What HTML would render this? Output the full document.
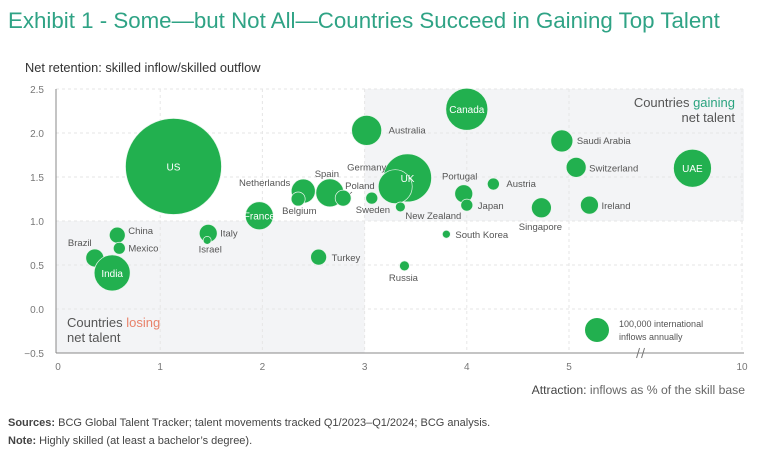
<!DOCTYPE html>
<html><head><meta charset="utf-8"><style>
body{margin:0;background:#fff;width:768px;height:464px;overflow:hidden;font-family:"Liberation Sans",sans-serif}
svg text{font-family:"Liberation Sans",sans-serif}
</style></head><body>
<svg id="c" width="768" height="464">
<text x="8" y="28" font-size="22.3" fill="#2fa385">Exhibit 1 - Some—but Not All—Countries Succeed in Gaining Top Talent</text>
<text x="25" y="72" font-size="12.8" fill="#333">Net retention: skilled inflow/skilled outflow</text>
<g id="plot"></g>
<text x="745" y="394" font-size="12.2" fill="#666" text-anchor="end"><tspan fill="#444">Attraction:</tspan> inflows as % of the skill base</text>
<text x="8" y="426" font-size="11" fill="#444"><tspan font-weight="bold">Sources:</tspan> BCG Global Talent Tracker; talent movements tracked Q1/2023–Q1/2024; BCG analysis.</text>
<text x="8" y="444" font-size="11" fill="#444"><tspan font-weight="bold">Note:</tspan> Highly skilled (at least a bachelor’s degree).</text>
</svg>
<script>
const countries=["US","Canada","Australia","Saudi Arabia","Switzerland","UAE","UK","Germany","Spain","Netherlands","Belgium","Poland","Sweden","New Zealand","Portugal","Japan","Austria","Singapore","Ireland","France","China","Italy","Israel","Mexico","Brazil","India","Turkey","Russia","South Korea"];
const attraction=[1.13,4.0,3.02,4.93,5.07,7.9,3.42,3.30,2.66,2.40,2.35,2.79,3.07,3.35,3.97,4.0,4.26,4.73,5.2,1.97,0.58,1.47,1.46,0.6,0.36,0.53,2.55,3.39,3.80];
const retention=[1.62,2.27,2.03,1.91,1.61,1.60,1.49,1.39,1.32,1.34,1.25,1.26,1.26,1.16,1.31,1.18,1.42,1.15,1.18,1.06,0.84,0.86,0.78,0.69,0.58,0.41,0.59,0.49,0.85];
const inflowsK=[1600,306,156,84,69,250,400,200,136,100,34,44,25,17,56,25,25,69,56,136,44,56,11,25,56,225,44,17,11];
const yTicks=[2.5,2.0,1.5,1.0,0.5,0.0,-0.5];
const yTickLabels=["2.5","2.0","1.5","1.0","0.5","0.0","−0.5"];
const xTicks=[0,1,2,3,4,5,10];
const xTickLabels=["0","1","2","3","4","5","10"];
const legendInflow=100;
const inside=["US","Canada","UAE","UK","France","India"];
const labelPos={"Australia":[22,3,"start"],"Saudi Arabia":[15,3,"start"],"Switzerland":[13,4,"start"],"Germany":[-9,-16,"end"],"Spain":[-3,-16,"middle"],"Netherlands":[-13,-5,"end"],"Belgium":[-16,15,"start"],"Poland":[2,-9,"start"],"Sweden":[-16,15,"start"],"New Zealand":[5,12,"start"],"Portugal":[-4,-14,"middle"],"Japan":[11,4,"start"],"Austria":[13,3,"start"],"Singapore":[-1,22,"middle"],"Ireland":[12,4,"start"],"China":[11,-1,"start"],"Italy":[12,3,"start"],"Israel":[3,12,"middle"],"Mexico":[9,3,"start"],"Brazil":[-15,-12,"middle"],"Turkey":[13,4,"start"],"Russia":[-1,15,"middle"],"South Korea":[9,4,"start"]};
const NS="http://www.w3.org/2000/svg";
const L=58,U=102.2,Y0=309,V=88,BX=5.7,BP=L+BX*U,R10=742;
function sx(v){return v<=BX?L+v*U:BP+(v-BX)*(R10-BP)/(10-BX);}
function sy(v){return Y0-v*V;}
function rr(k){return 1.2*Math.sqrt(k);}
const g=document.getElementById('plot');
function mk(t,a,p){const e=document.createElementNS(NS,t);for(const k in a)e.setAttribute(k,a[k]);(p||g).appendChild(e);return e;}
let e;
e=mk('rect',{x:sx(3),y:sy(2.5),width:744-sx(3),height:sy(1)-sy(2.5),fill:'#f3f4f6'});


e=mk('rect',{x:56,y:sy(1),width:sx(3)-56,height:sy(-0.5)-sy(1),fill:'#f3f4f6'});


yTicks.forEach((t,i)=>{
 if(t>-0.5){e=mk('line',{x1:56,x2:744,y1:sy(t),y2:sy(t),stroke:'#e6e6e6','stroke-dasharray':'3,3'});
 
 }
 e=mk('text',{x:44,y:sy(t)+4,'font-size':10,fill:'#777','text-anchor':'end'});e.textContent=yTickLabels[i];
 
 
});
xTicks.forEach((t,i)=>{
 if(t>0){e=mk('line',{x1:sx(t),x2:sx(t),y1:sy(2.5),y2:sy(-0.5),stroke:'#e6e6e6','stroke-dasharray':'3,3'});
 
 }
 e=mk('text',{x:sx(t),y:370,'font-size':10,fill:'#777','text-anchor':'middle'});e.textContent=xTickLabels[i];
 
 
});
e=mk('line',{x1:56,x2:56,y1:sy(2.5),y2:sy(-0.5),stroke:'#888'});


e=mk('line',{x1:56,x2:744,y1:sy(-0.5),y2:sy(-0.5),stroke:'#888'});


e=mk('path',{d:`M${BP-4},${sy(-0.5)+5} L${BP-1},${sy(-0.5)-5} M${BP+1},${sy(-0.5)+5} L${BP+4},${sy(-0.5)-5}`,stroke:'#777',fill:'none','stroke-width':1});


e=mk('line',{x1:385,y1:175,x2:392,y2:183,stroke:'#555','stroke-width':0.8});


e=mk('line',{x1:352,y1:192,x2:346,y2:197,stroke:'#555','stroke-width':0.8});


countries.forEach((c,i)=>{
 const cx=sx(attraction[i]),cy=sy(retention[i]),r=rr(inflowsK[i]);
 const b=mk('circle',{cx:cx,cy:cy,r:r,fill:'#22b04f',stroke:'#e8f6ec','stroke-width':0.7});
 
 
});
countries.forEach((c,i)=>{
 const cx=sx(attraction[i]),cy=sy(retention[i]);let t;
 if(inside.includes(c)){t=mk('text',{x:cx,y:cy+4,'font-size':10,fill:'#fff','text-anchor':'middle'});}
 else{const p=labelPos[c];t=mk('text',{x:cx+p[0],y:cy+p[1],'font-size':9.5,fill:'#555','text-anchor':p[2]});}
 t.textContent=c;
 
 
});
e=mk('circle',{cx:597,cy:330,r:rr(legendInflow),fill:'#22b04f'});


e=mk('text',{x:619,y:327,'font-size':9,fill:'#555'});e.textContent='100,000 international';


e=mk('text',{x:619,y:340,'font-size':9,fill:'#555'});e.textContent='inflows annually';


e=mk('text',{x:735,y:107,'font-size':13,fill:'#555','text-anchor':'end'});e.innerHTML='Countries <tspan fill="#2aa37f">gaining</tspan>';


e=mk('text',{x:735,y:122,'font-size':13,fill:'#555','text-anchor':'end'});e.textContent='net talent';


e=mk('text',{x:67,y:327,'font-size':13,fill:'#555'});e.innerHTML='Countries <tspan fill="#e8826a">losing</tspan>';


e=mk('text',{x:67,y:342,'font-size':13,fill:'#555'});e.textContent='net talent';


</script>
</body></html>
